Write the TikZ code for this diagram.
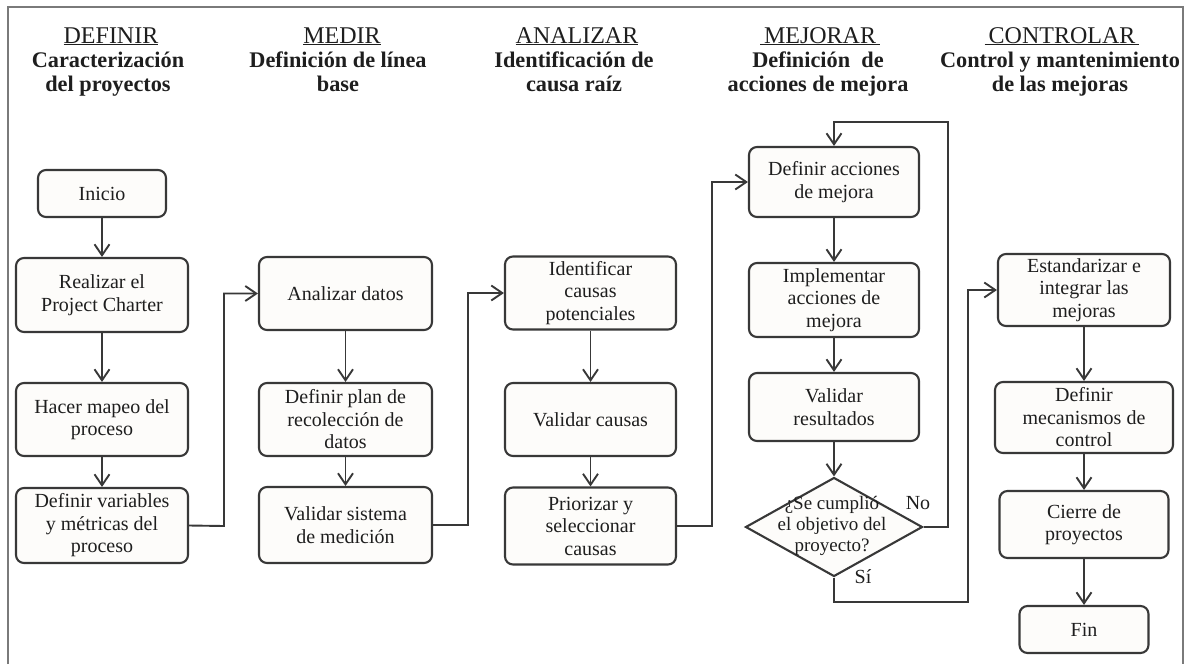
\documentclass[tikz,border=0pt]{standalone}
\usepackage{fontspec}
\setmainfont{Liberation Serif}
\usetikzlibrary{arrows.meta,shapes.geometric,calc}
\definecolor{ln}{HTML}{383838}
\definecolor{bx}{HTML}{FDFCFA}
\definecolor{tx}{HTML}{1E1E1E}
\definecolor{fr}{HTML}{7A7A7A}
\begin{document}
\begin{tikzpicture}[x=1pt,y=-1pt,
  box/.style={draw=ln, line width=2.1pt, fill=bx, rounded corners=8pt, align=center, text=tx,
              font=\fontsize{20}{22.5}\selectfont, inner sep=0pt},
  ttl/.style={text=tx, font=\fontsize{24}{24}\selectfont, inner sep=0pt, anchor=base},
  sub/.style={align=center, text=tx, font=\fontsize{22.3}{23.5}\selectfont\bfseries, inner sep=0pt, anchor=base},
  arr/.style={draw=ln, line width=1.9pt, -{Straight Barb[length=11pt,width=15pt,line width=1.9pt]}},
  lbl/.style={text=tx, font=\fontsize{20}{22}\selectfont, inner sep=0pt}
]
\useasboundingbox (0,0) rectangle (1190,664);
% frame
\draw[fr, line width=1.2pt] (8,664) -- (8,7) -- (1183,7) -- (1183,664);

% headers (sub node: base = baseline of its last line)
\node[ttl] (t1) at (111,43) {\underline{DEFINIR}};
\node[sub] (s1) at (108,91) {Caracterización\\del proyectos};
\node[ttl] (t2) at (342,43) {\underline{MEDIR}};
\node[sub] (s2) at (338,91) {Definición de línea\\base};
\node[ttl] (t3) at (577,43) {\underline{ANALIZAR}};
\node[sub] (s3) at (574,91) {Identificación de\\causa raíz};
\node[ttl] (t4) at (820,43) {\underline{\,MEJORAR\,}};
\node[sub] (s4) at (818,91) {Definición\ \ de\\acciones de mejora};
\node[ttl] (t5) at (1062,43) {\underline{\,CONTROLAR\,}};
\node[sub] (s5) at (1060,91) {Control y mantenimiento\\de las mejoras};

% column 1
\node[box, minimum width=128pt, minimum height=47pt] (ini) at (102,193.5) {Inicio};
\node[box, minimum width=172pt, minimum height=74pt] (real) at (102,295) {Realizar el\\Project Charter};
\node[box, minimum width=172pt, minimum height=73pt] (mapeo) at (102,419.5) {Hacer mapeo del\\proceso};
\node[box, minimum width=172pt, minimum height=75pt] (defvar) at (102,525.5) {Definir variables\\y métricas del\\proceso};

% column 2
\node[box, minimum width=173pt, minimum height=73pt] (anal) at (345.5,293.5) {Analizar datos};
\node[box, minimum width=173pt, minimum height=73pt] (plan) at (345.5,419.5) {Definir plan de\\recolección de\\datos};
\node[box, minimum width=173pt, minimum height=76pt] (vsis) at (345.5,525) {Validar sistema\\de medición};

% column 3
\node[box, minimum width=171pt, minimum height=73pt] (ident) at (590.5,293) {Identificar\\causas\\potenciales};
\node[box, minimum width=171pt, minimum height=73pt] (vcau) at (590.5,419.5) {Validar causas};
\node[box, minimum width=171pt, minimum height=77pt] (prior) at (590.5,526) {Priorizar y\\seleccionar\\causas};

% column 4
\node[box, minimum width=170pt, minimum height=70pt] (defacc) at (834,182) {Definir acciones\\de mejora};
\node[box, minimum width=170pt, minimum height=74pt] (impl) at (834,300) {Implementar\\acciones de\\mejora};
\node[box, minimum width=170pt, minimum height=68pt] (vres) at (834,407) {Validar\\resultados};
\node[draw=ln, line width=2.1pt, fill=bx, diamond, minimum width=177pt, minimum height=99pt, inner sep=0pt] (dia) at (834,527) {};
\node[lbl, align=center, font=\fontsize{19}{21}\selectfont] (diat) at (832,526) {¿Se cumplió\\el objetivo del\\proyecto?};
\node[lbl] (no) at (918,503) {No};
\node[lbl] (si) at (863,577) {Sí};

% column 5
\node[box, minimum width=172pt, minimum height=72pt] (estd) at (1084,290) {Estandarizar e\\integrar las\\mejoras};
\node[box, minimum width=178pt, minimum height=71pt] (mec) at (1084,417.5) {Definir\\mecanismos de\\control};
\node[box, minimum width=169pt, minimum height=67pt] (cierre) at (1084,524.5) {Cierre de\\proyectos};
\node[box, minimum width=129pt, minimum height=47pt] (fin) at (1084,629.5) {Fin};

% vertical connectors
\draw[arr] (ini) -- (real);
\draw[arr] (real) -- (mapeo);
\draw[arr] (mapeo) -- (defvar);
\draw[arr] (anal) -- (plan);
\draw[arr] (plan) -- (vsis);
\draw[arr] (ident) -- (vcau);
\draw[arr] (vcau) -- (prior);
\draw[arr] (defacc) -- (impl);
\draw[arr] (impl) -- (vres);
\draw[arr] (vres) -- (dia);
\draw[arr] (estd) -- (mec);
\draw[arr] (mec) -- (cierre);
\draw[arr] (cierre) -- (fin);

% column links
\coordinate (c1) at (224,526);
\coordinate (c2) at (468,525);
\coordinate (c3) at (712,526);
\draw[arr] (defvar.east) -- (c1) |- (anal.west);
\draw[arr] (vsis.east) -- (c2) |- (ident.west);
\draw[arr] (prior.east) -- (c3) |- (defacc.west);

% loop (No) and exit (Si)
\coordinate (loopTop) at (948,122);
\coordinate (siCorner) at (968,602);
\draw[arr] (dia.east) -| (loopTop) -| (defacc.north);
\draw[arr] (dia.south) |- (siCorner) |- (estd.west);
\end{tikzpicture}
\end{document}
